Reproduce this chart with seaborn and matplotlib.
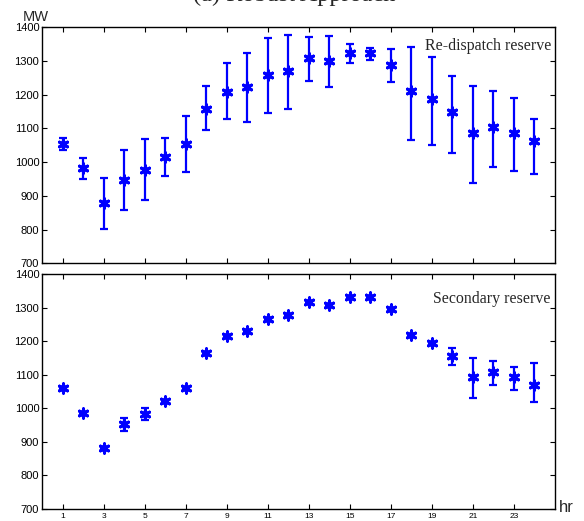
import numpy as np
import pandas as pd
import matplotlib
matplotlib.use("Agg")
import matplotlib.pyplot as plt
import seaborn as sns

hours = list(range(1, 25))

redispatch_mean = [1054, 982, 879, 946, 978, 1015, 1054, 1159, 1209, 1224, 1259, 1271,
                   1308, 1300, 1323, 1323, 1288, 1212, 1187, 1149, 1087, 1104, 1087, 1062]
redispatch_upper = [1073, 1011, 954, 1037, 1068, 1073, 1138, 1227, 1293, 1325, 1367, 1377,
                    1370, 1374, 1349, 1340, 1336, 1342, 1311, 1255, 1225, 1212, 1190, 1128]
redispatch_lower = [1036, 951, 802, 857, 888, 960, 971, 1094, 1128, 1118, 1147, 1159,
                    1241, 1224, 1294, 1304, 1238, 1067, 1051, 1028, 938, 987, 975, 965]

secondary_mean = [1061, 987, 882, 954, 984, 1021, 1060, 1165, 1216, 1231, 1268, 1279,
                  1317, 1309, 1331, 1331, 1296, 1218, 1194, 1156, 1093, 1110, 1095, 1070]
secondary_upper = [1061, 987, 885, 972, 1000, 1021, 1060, 1165, 1216, 1231, 1268, 1279,
                   1317, 1309, 1331, 1331, 1296, 1218, 1194, 1180, 1149, 1142, 1124, 1135]
secondary_lower = [1061, 987, 880, 933, 966, 1021, 1060, 1165, 1216, 1231, 1268, 1279,
                   1317, 1309, 1331, 1331, 1296, 1218, 1194, 1130, 1030, 1071, 1055, 1019]

xticks = [1, 3, 5, 7, 9, 11, 13, 15, 17, 19, 21, 23]
yticks = [700, 800, 900, 1000, 1100, 1200, 1300, 1400]
panel_labels = ["Re-dispatch reserve", "Secondary reserve"]
title = "(a) Robust Approach"

sns.set_style("ticks")
plt.rcParams["font.family"] = ["Liberation Sans", "DejaVu Sans"]

W, H = 584, 521
fig = plt.figure(figsize=(W / 100, H / 100), dpi=100)

def px_axes(left, top, right, bottom):
    return fig.add_axes([left / W, 1 - bottom / H, (right - left) / W, (bottom - top) / H])

ax_top = px_axes(42, 27.3, 555, 263.3)
ax_bot = px_axes(42, 274.3, 555, 509)

blue = "#0000ff"
datasets = [
    (ax_top, redispatch_mean, redispatch_upper, redispatch_lower),
    (ax_bot, secondary_mean, secondary_upper, secondary_lower),
]
label_y = [0.905, 0.878]

for i, (ax, mean, up, lo) in enumerate(datasets):
    df = pd.DataFrame({"hour": hours, "mw": mean, "up": up, "lo": lo})
    yerr = np.vstack([df["mw"] - df["lo"], df["up"] - df["mw"]])
    ax.errorbar(df["hour"], df["mw"], yerr=yerr, fmt="none", ecolor=blue,
                elinewidth=1.6, capsize=3.2, capthick=1.6, zorder=2)
    sns.scatterplot(data=df, x="hour", y="mw", ax=ax, marker=(6, 2, 0), s=45,
                    color=blue, edgecolor=blue, linewidth=2.2, zorder=3, legend=False)
    ax.set_xlim(0, 25)
    ax.set_ylim(700, 1400)
    ax.set_xticks(xticks)
    ax.set_yticks(yticks)
    ax.set_xlabel("")
    ax.set_ylabel("")
    for s in ax.spines.values():
        s.set_visible(True)
        s.set_linewidth(1.0)
        s.set_color("black")
    ax.tick_params(direction="in", length=3.5, width=0.8, top=True, right=True,
                   colors="black", pad=2)
    ax.tick_params(axis="y", labelsize=8)
    ax.tick_params(axis="x", labelsize=6, pad=3)
    ax.text(0.992, label_y[i], panel_labels[i], transform=ax.transAxes,
            ha="right", va="baseline", fontsize=11.4, family=["Liberation Serif"])

ax_top.set_xticklabels([])

fig.text(294.5 / W, 1 - 0.5 / H, title, ha="center", va="baseline", fontsize=17.5,
         family=["Liberation Serif"])
fig.text(23 / W, 1 - 21 / H, "MW", ha="left", va="baseline", fontsize=10.5)
fig.text(559 / W, 1 - 512 / H, "hr", ha="left", va="baseline", fontsize=12)

fig.savefig("out.png", dpi=100)
